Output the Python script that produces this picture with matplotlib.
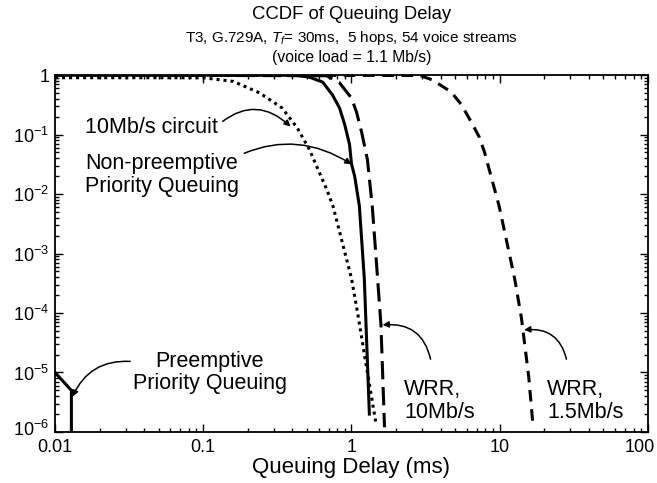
#!/usr/bin/env python3
"""CCDF of queuing delay for several scheduling schemes (log-log)."""

import matplotlib

matplotlib.use("Agg")
import matplotlib.pyplot as plt
from matplotlib.ticker import FixedLocator, LogLocator, NullFormatter
from matplotlib.transforms import ScaledTranslation

plt.rcParams["font.family"] = ["Liberation Sans", "DejaVu Sans"]
plt.rcParams["mathtext.fontset"] = "custom"
plt.rcParams["mathtext.rm"] = "Liberation Sans"
plt.rcParams["mathtext.it"] = "Liberation Sans:italic"

# curves (delay in ms, CCDF)
circuit_x = [0.01, 0.1, 0.16, 0.24, 0.34, 0.43, 0.52, 0.68, 0.75, 1.0, 1.1, 1.28, 1.47]
circuit_y = [0.9, 0.9, 0.78, 0.5, 0.28, 0.13, 0.056, 0.012, 0.0063, 3.8e-4, 1e-4, 1e-5, 1.3e-6]

nonpre_x = [0.01, 0.42, 0.52, 0.64, 0.745, 0.83, 0.90, 0.97, 1.0, 1.05, 1.13, 1.22, 1.32]
nonpre_y = [1.0, 0.99, 0.92, 0.76, 0.46, 0.28, 0.147, 0.068, 0.032, 0.02, 0.0063, 3.8e-4, 2e-6]

wrr10_x = [0.01, 0.68, 0.83, 1.0, 1.08, 1.17, 1.28, 1.38, 1.5, 1.58, 1.67]
wrr10_y = [1.0, 0.97, 0.74, 0.41, 0.24, 0.11, 0.038, 0.0063, 3.8e-4, 6.3e-5, 1.2e-6]

wrr15_x = [0.01, 2.9, 3.5, 4.7, 5.5, 6.4, 7.3, 7.9, 9.9, 12.6, 14.0, 15.7, 16.8]
wrr15_y = [1.0, 0.98, 0.83, 0.52, 0.32, 0.165, 0.089, 0.05, 0.0063, 3.8e-4, 8.3e-5, 8.3e-6, 1.2e-6]

preempt_x = [0.01, 0.0129, 0.0129]
preempt_y = [1e-5, 5e-6, 1e-6]

x_ticks = [0.01, 0.1, 1, 10, 100]
x_labels = ["0.01", "0.1", "1", "10", "100"]
y_ticks = [1, 1e-1, 1e-2, 1e-3, 1e-4, 1e-5, 1e-6]
y_labels = ["1", "10$^{-1}$", "10$^{-2}$", "10$^{-3}$", "10$^{-4}$", "10$^{-5}$", "10$^{-6}$"]


def main():
    fig = plt.figure(figsize=(6.57, 4.83), dpi=100)
    ax = fig.add_axes([0.0837, 0.1056, 0.9026, 0.7391])

    ax.plot(circuit_x, circuit_y, color="black", lw=2.2, linestyle=(0, (1, 1.3)))
    ax.plot(nonpre_x, nonpre_y, color="black", lw=2.2)
    ax.plot(wrr10_x, wrr10_y, color="black", lw=2.2, linestyle=(0, (6, 2.5)))
    ax.plot(wrr15_x, wrr15_y, color="black", lw=2.2, linestyle=(0, (3.8, 2.5)))
    ax.plot(preempt_x, preempt_y, color="black", lw=2.2)

    ax.set_xscale("log")
    ax.set_yscale("log")
    ax.set_xlim(0.01, 100)
    ax.set_ylim(1e-6, 1)

    ax.xaxis.set_major_locator(FixedLocator(x_ticks))
    ax.set_xticklabels(x_labels)
    ax.yaxis.set_major_locator(FixedLocator(y_ticks))
    ax.set_yticklabels(y_labels)
    for axis in (ax.xaxis, ax.yaxis):
        axis.set_minor_locator(LogLocator(base=10, subs=range(2, 10), numticks=20))
        axis.set_minor_formatter(NullFormatter())
    ax.tick_params(which="both", direction="in", top=True, right=True, labelsize=13, width=1)
    ax.tick_params(which="major", length=6)
    ax.tick_params(which="minor", length=3)
    ax.tick_params(axis="x", which="major", pad=5)
    ax.tick_params(axis="y", which="major", pad=4)
    for spine in ax.spines.values():
        spine.set_linewidth(1.3)
    # corner labels sit a little inward in the reference
    last = ax.get_xticklabels()[-1]
    last.set_transform(last.get_transform() + ScaledTranslation(-0.08, 0, fig.dpi_scale_trans))
    bottom = ax.get_yticklabels()[-1]
    bottom.set_transform(bottom.get_transform() + ScaledTranslation(0, 0.04, fig.dpi_scale_trans))

    ax.set_xlabel("Queuing Delay (ms)", fontsize=16)
    ax.xaxis.set_label_coords(0.5, -0.07)

    fig.text(0.535, 0.971, "CCDF of Queuing Delay", ha="center", va="center", fontsize=13.3)
    fig.text(0.535, 0.921, "T3, G.729A, $T_f$= 30ms,  5 hops, 54 voice streams",
             ha="center", va="center", fontsize=11)
    fig.text(0.535, 0.880, "(voice load = 1.1 Mb/s)", ha="center", va="center", fontsize=11.3)

    arrow = dict(arrowstyle="-|>", color="black", lw=1.1, mutation_scale=9, shrinkA=2, shrinkB=0)
    fs = 15.5
    ax.annotate("10Mb/s circuit", xy=(0.388, 0.136), xytext=(0.0159, 0.131),
                ha="left", va="center", fontsize=fs,
                arrowprops=dict(arrow, connectionstyle="arc3,rad=-0.45",
                                relpos=(1.0, 0.6)))
    ax.annotate("Non-preemptive\nPriority Queuing", xy=(1.0, 0.0316), xytext=(0.0159, 0.0207),
                ha="left", va="center", fontsize=fs, linespacing=1.1,
                arrowprops=dict(arrow, connectionstyle="arc3,rad=-0.3",
                                relpos=(0.93, 0.82)))
    ax.annotate("Preemptive\nPriority Queuing", xy=(0.0131, 3.9e-6), xytext=(0.111, 1.0e-5),
                ha="center", va="center", fontsize=fs, linespacing=1.1,
                arrowprops=dict(arrow, connectionstyle="arc3,rad=0.35",
                                relpos=(0.0, 0.75), shrinkA=0))
    ax.annotate("WRR,\n10Mb/s", xy=(1.62, 6.3e-5), xytext=(2.27, 3.3e-6),
                ha="left", va="center", fontsize=fs, linespacing=1.1,
                arrowprops=dict(arrow, connectionstyle="arc3,rad=0.45",
                                relpos=(0.38, 1.4)))
    ax.annotate("WRR,\n1.5Mb/s", xy=(14.6, 5.2e-5), xytext=(20.9, 3.3e-6),
                ha="left", va="center", fontsize=fs, linespacing=1.1,
                arrowprops=dict(arrow, connectionstyle="arc3,rad=0.45",
                                relpos=(0.26, 1.4)))

    fig.savefig("out.png", dpi=100)


if __name__ == "__main__":
    main()
